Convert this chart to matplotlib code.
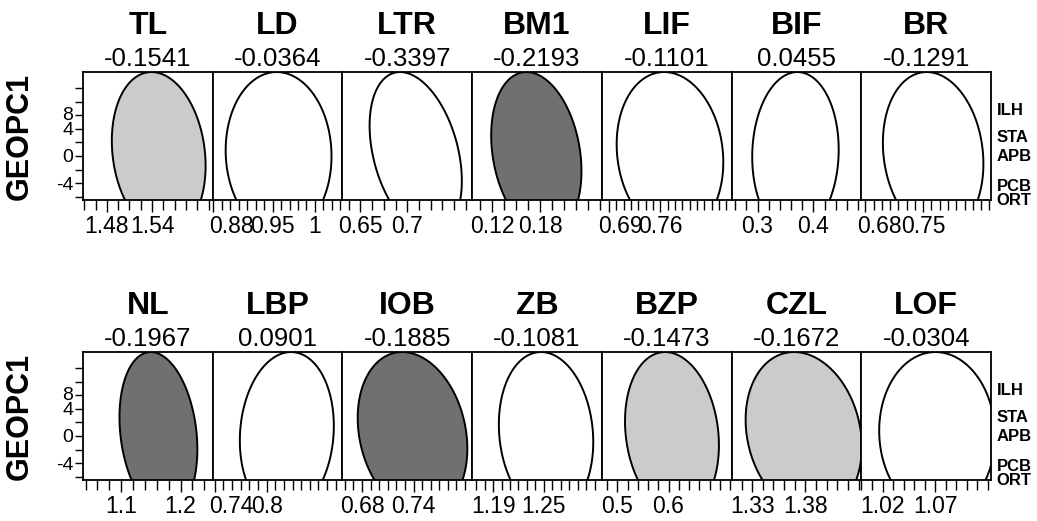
import numpy as np
import matplotlib.pyplot as plt
from matplotlib.ticker import FixedLocator, MultipleLocator
from matplotlib.transforms import ScaledTranslation

plt.rcParams['font.family'] = ['Liberation Sans', 'DejaVu Sans']
plt.rcParams['axes.unicode_minus'] = False

# GEOPC1 (shared y variable)
geo_mean = 0.4
geo_sd = 4.9
chi_95 = np.sqrt(5.991)  # 95% bivariate density ellipse

# top row
traits_top = ['TL', 'LD', 'LTR', 'BM1', 'LIF', 'BIF', 'BR']
corr_top = [-0.1541, -0.0364, -0.3397, -0.2193, -0.1101, 0.0455, -0.1291]
xmean_top = [1.5488, 0.9571, 0.7090, 0.1754, 0.7733, 0.3679, 0.7620]
xsd_top = [0.0254, 0.0255, 0.0201, 0.0231, 0.0297, 0.0316, 0.0248]
xlim_top = [(1.4484, 1.6204), (0.8794, 1.0324), (0.6308, 0.7692), (0.095, 0.2575),
            (0.6804, 0.8573), (0.2536, 0.4857), (0.6752, 0.8319)]
ticks_top = [[1.48, 1.54], [0.88, 0.95, 1.0], [0.65, 0.7], [0.12, 0.18],
             [0.69, 0.76], [0.3, 0.4], [0.68, 0.75]]
ticklabels_top = [['1.48', '1.54'], ['0.88', '0.95', '1'], ['0.65', '0.7'], ['0.12', '0.18'],
                  ['0.69', '0.76'], ['0.3', '0.4'], ['0.68', '0.75']]
minor_top = [0.015, 0.01, 0.0125, 0.015, 0.01, 0.02, 0.01]
signif_top = ['light', 'none', 'none', 'dark', 'none', 'none', 'none']

# bottom row
traits_bot = ['NL', 'LBP', 'IOB', 'ZB', 'BZP', 'CZL', 'LOF']
corr_bot = [-0.1967, 0.0901, -0.1885, -0.1081, -0.1473, -0.1672, -0.0304]
xmean_bot = [1.1627, 0.8234, 0.7388, 1.2526, 0.6067, 1.3784, 1.0719]
xsd_bot = [0.0268, 0.0222, 0.0261, 0.0228, 0.0374, 0.0223, 0.0225]
xlim_bot = [(1.0356, 1.2542), (0.7377, 0.8877), (0.6571, 0.8083), (1.1652, 1.3186),
            (0.47, 0.7229), (1.3106, 1.4325), (0.9998, 1.1231)]
ticks_bot = [[1.1, 1.2], [0.74, 0.8], [0.68, 0.74], [1.19, 1.25],
             [0.5, 0.6], [1.33, 1.38], [1.02, 1.07]]
ticklabels_bot = [['1.1', '1.2'], ['0.74', '0.8'], ['0.68', '0.74'], ['1.19', '1.25'],
                  ['0.5', '0.6'], ['1.33', '1.38'], ['1.02', '1.07']]
minor_bot = [0.02, 0.01, 0.01, 0.01, 0.02, 0.01, 0.01]
signif_bot = ['dark', 'none', 'dark', 'none', 'light', 'light', 'none']

# y axis and group labels
yticks_major = [-4, 0, 4, 8]
yticks_minor = [-6, -2, 2, 6, 10]
groups = ['ILH', 'STA', 'APB', 'PCB', 'ORT']
group_geopc1 = [7.0, 3.0, 0.2, -4.3, -6.4]

fill_colors = {'dark': '#707070', 'light': '#cbcbcb', 'none': 'white'}

W, H = 1037, 521
fig = plt.figure(figsize=(W / 100, H / 100), dpi=100)

left0 = 83
pw = (991 - 83) / 7
ph = 128
row_tops = [72, 352]

rows = [
    (traits_top, corr_top, xmean_top, xsd_top, xlim_top, ticks_top, ticklabels_top, minor_top, signif_top),
    (traits_bot, corr_bot, xmean_bot, xsd_bot, xlim_bot, ticks_bot, ticklabels_bot, minor_bot, signif_bot),
]

t = np.linspace(0, 2 * np.pi, 400)

for top, row in zip(row_tops, rows):
    names, corrs, xmeans, xsds, xlims, majors, labels, minors, signif = row
    for i in range(7):
        ax = fig.add_axes([(left0 + i * pw) / W, 1 - (top + ph) / H, pw / W, ph / H])
        lo, hi = xlims[i]
        ax.set_xlim(lo, hi)
        ax.set_ylim(-6.5, 12.4)

        r = corrs[i]
        ex = xmeans[i] + chi_95 * xsds[i] * np.cos(t)
        ey = geo_mean + chi_95 * geo_sd * (r * np.cos(t) + np.sqrt(1 - r ** 2) * np.sin(t))
        ax.fill(ex, ey, facecolor=fill_colors[signif[i]], edgecolor='black', lw=1.4)

        for sp in ax.spines.values():
            sp.set_linewidth(1.3)

        # x axis
        ax.xaxis.set_major_locator(FixedLocator(majors[i]))
        ax.set_xticklabels(labels[i])
        step = minors[i]
        ax.xaxis.set_minor_locator(MultipleLocator(step, offset=majors[i][0] % step))
        ax.tick_params(axis='x', which='major', direction='out', length=8.5, width=1,
                       labelsize=16.5, pad=2.5)
        ax.tick_params(axis='x', which='minor', direction='out', length=7, width=1)
        frac = (majors[i][0] - lo) / (hi - lo)
        if frac < 0.08:
            # first label pushed inside the panel
            lbl = ax.get_xticklabels()[0]
            lbl.set_horizontalalignment('left')
            shift = -(frac * pw + 4) / 100
            lbl.set_transform(lbl.get_transform() + ScaledTranslation(shift, 0, fig.dpi_scale_trans))

        # y axis
        if i == 0:
            ax.yaxis.set_major_locator(FixedLocator(yticks_major))
            ax.yaxis.set_minor_locator(FixedLocator(yticks_minor))
            ax.tick_params(axis='y', which='both', direction='out', length=6, width=1,
                           labelsize=14, pad=1)
            lbl8 = ax.get_yticklabels()[3]
            lbl8.set_transform(lbl8.get_transform() +
                               ScaledTranslation(0, -12 / 100, fig.dpi_scale_trans))
            ax.text(-0.49, 0.5, 'GEOPC1', transform=ax.transAxes, rotation=90,
                    ha='center', va='center', fontsize=22, fontweight='bold')
        elif i == 6:
            ax.yaxis.tick_right()
            ax.set_yticks(group_geopc1, groups)
            ax.tick_params(axis='y', length=0, pad=4, labelsize=12)
            for lbl in ax.get_yticklabels():
                lbl.set_fontweight('bold')
        else:
            ax.set_yticks([])

        ax.text(0.5, 1.36, names[i], transform=ax.transAxes, ha='center', va='center',
                fontsize=23, fontweight='bold')
        ax.text(0.5, 1.105, f'{r:.4f}', transform=ax.transAxes, ha='center', va='center',
                fontsize=18.5)

fig.savefig('out.png', dpi=100)
